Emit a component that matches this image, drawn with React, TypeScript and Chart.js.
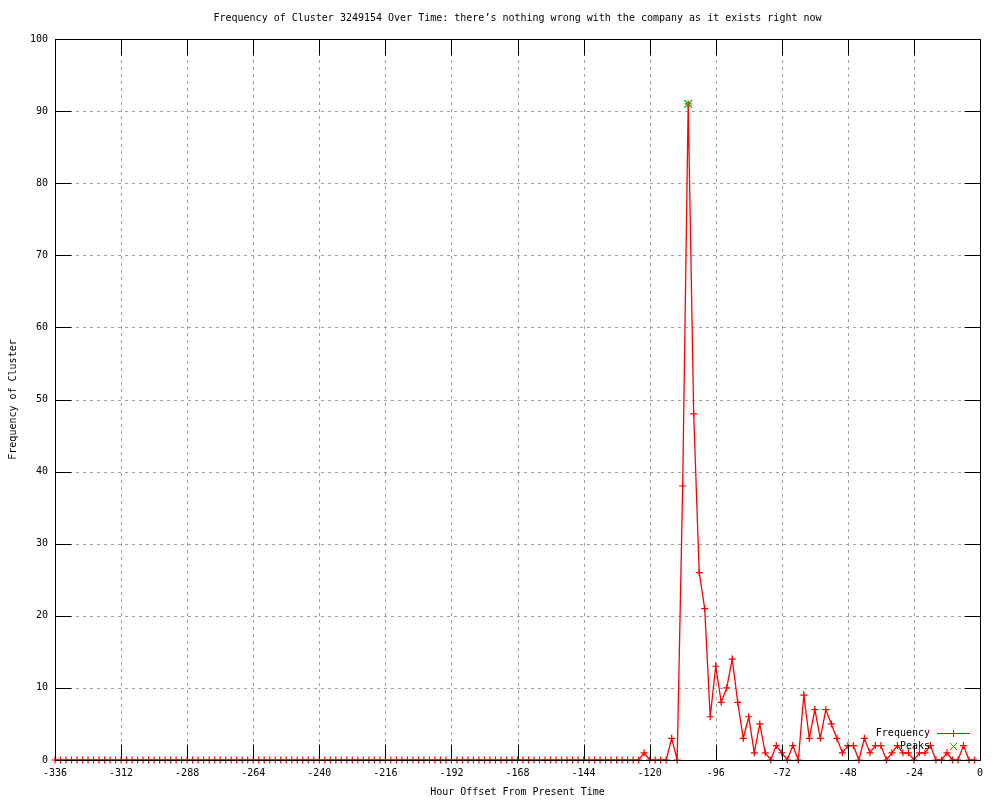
import { useEffect, useRef } from "react";
import { Chart, registerables } from "chart.js";

Chart.register(...registerables);

const TITLE =
  "Frequency of Cluster 3249154 Over Time: there’s nothing wrong with the company as it exists right now";
const X_TITLE = "Hour Offset From Present Time";
const Y_TITLE = "Frequency of Cluster";
const SERIES_LABEL = "Frequency";
const PEAK_LABEL = "Peaks";

// sampling grid of the series (one value every 2 hours, starting at -336)
const FIRST_HOUR = -336;
const HOUR_STEP = 2;

// values, one row per 24 hours (-336 ... -2)
const FREQUENCY = [
  0, 0, 0, 0, 0, 0, 0, 0, 0, 0, 0, 0,
  0, 0, 0, 0, 0, 0, 0, 0, 0, 0, 0, 0,
  0, 0, 0, 0, 0, 0, 0, 0, 0, 0, 0, 0,
  0, 0, 0, 0, 0, 0, 0, 0, 0, 0, 0, 0,
  0, 0, 0, 0, 0, 0, 0, 0, 0, 0, 0, 0,
  0, 0, 0, 0, 0, 0, 0, 0, 0, 0, 0, 0,
  0, 0, 0, 0, 0, 0, 0, 0, 0, 0, 0, 0,
  0, 0, 0, 0, 0, 0, 0, 0, 0, 0, 0, 0,
  0, 0, 0, 0, 0, 0, 0, 0, 0, 0, 0, 1,
  0, 0, 0, 0, 3, 0, 38, 91, 48, 26, 21, 6,
  13, 8, 10, 14, 8, 3, 6, 1, 5, 1, 0, 2,
  1, 0, 2, 0, 9, 3, 7, 3, 7, 5, 3, 1,
  2, 2, 0, 3, 1, 2, 2, 0, 1, 2, 1, 1,
  0, 1, 1, 2, 0, 0, 1, 0, 0, 2, 0, 0,
];

const PEAK_HOURS = [-106];
const PEAK_VALUES = [91];

const X_MIN = -336;
const X_MAX = 0;
const X_STEP = 24;
const Y_MIN = 0;
const Y_MAX = 100;
const Y_STEP = 10;

const FONT_FAMILY = "'DejaVu Sans Mono', 'Liberation Mono', monospace";
const FONT_SIZE = 10;
const RED = "#ff0000";
const GREEN = "#00c000";
const GRID = "#a0a0a0";
const TICK_LEN = 16;

const px = (v: number) => Math.round(v) + 0.5;

const gnuplotPlugin = {
  id: "gnuplotFrame",
  beforeDatasetsDraw(chart: any) {
    const { ctx, chartArea, scales } = chart;
    const { left, right, top, bottom } = chartArea;
    ctx.save();
    ctx.strokeStyle = GRID;
    ctx.lineWidth = 1;
    ctx.setLineDash([3, 4]);
    ctx.beginPath();
    for (const t of scales.x.ticks) {
      const x = px(scales.x.getPixelForValue(t.value));
      ctx.moveTo(x, top);
      ctx.lineTo(x, bottom);
    }
    for (const t of scales.y.ticks) {
      const y = px(scales.y.getPixelForValue(t.value));
      ctx.moveTo(left, y);
      ctx.lineTo(right, y);
    }
    ctx.stroke();
    ctx.restore();
  },
  afterDatasetsDraw(chart: any) {
    const { ctx, chartArea, scales } = chart;
    const L = px(chartArea.left);
    const R = px(chartArea.right);
    const T = px(chartArea.top);
    const B = px(chartArea.bottom);
    ctx.save();
    ctx.setLineDash([]);
    ctx.strokeStyle = "#000";
    ctx.lineWidth = 1;
    ctx.beginPath();
    for (const t of scales.x.ticks) {
      const x = px(scales.x.getPixelForValue(t.value));
      ctx.moveTo(x, B);
      ctx.lineTo(x, B - TICK_LEN);
      ctx.moveTo(x, T);
      ctx.lineTo(x, T + TICK_LEN);
    }
    for (const t of scales.y.ticks) {
      const y = px(scales.y.getPixelForValue(t.value));
      ctx.moveTo(L, y);
      ctx.lineTo(L + TICK_LEN, y);
      ctx.moveTo(R, y);
      ctx.lineTo(R - TICK_LEN, y);
    }
    ctx.stroke();
    ctx.strokeRect(L, T, R - L, B - T);
    ctx.restore();
  },
  afterDraw(chart: any) {
    const { ctx, chartArea } = chart;
    ctx.save();
    ctx.setLineDash([]);
    ctx.font = `${FONT_SIZE}px ${FONT_FAMILY}`;
    ctx.fillStyle = "#000";
    // title, centred over the plot area
    ctx.textAlign = "center";
    ctx.textBaseline = "middle";
    ctx.fillText(TITLE, (chartArea.left + chartArea.right) / 2, 18);

    // key (bottom right, inside the plot)
    const textRight = Math.round(chartArea.right) - 50;
    const sampleL = Math.round(chartArea.right) - 43;
    const sampleR = Math.round(chartArea.right) - 10;
    const sampleC = Math.round(chartArea.right) - 27;
    const row1 = 733;
    const row2 = 746;
    ctx.textAlign = "right";
    ctx.fillText(SERIES_LABEL, textRight, row1);
    ctx.fillText(PEAK_LABEL, textRight, row2);

    // red line sample with a "+" in its middle
    ctx.fillStyle = RED;
    ctx.fillRect(sampleL, row1, sampleR - sampleL, 1);
    ctx.fillRect(sampleC, row1 - 3, 1, 7);

    // green "x"
    ctx.fillStyle = GREEN;
    for (let d = -3; d <= 3; d++) {
      ctx.fillRect(sampleC + d, row2 + d, 1, 1);
      ctx.fillRect(sampleC + d, row2 - d, 1, 1);
    }
    ctx.restore();
  },
};

export default function App() {
  const canvasRef = useRef<HTMLCanvasElement | null>(null);

  useEffect(() => {
    const canvas = canvasRef.current;
    if (!canvas) return;
    const freqPoints = FREQUENCY.map((v, i) => ({ x: FIRST_HOUR + i * HOUR_STEP, y: v }));
    const peakPoints = PEAK_HOURS.map((h, i) => ({ x: h, y: PEAK_VALUES[i] }));
    const font = { family: FONT_FAMILY, size: FONT_SIZE };

    const chart = new Chart(canvas, {
      type: "line",
      data: {
        datasets: [
          {
            label: SERIES_LABEL,
            data: freqPoints,
            borderColor: RED,
            borderWidth: 1.3,
            backgroundColor: RED,
            pointStyle: "cross",
            pointRadius: 3.5,
            pointBorderColor: RED,
            pointBorderWidth: 1.2,
            tension: 0,
            fill: false,
            clip: false,
            order: 0,
          },
          {
            label: PEAK_LABEL,
            data: peakPoints,
            showLine: false,
            borderColor: GREEN,
            backgroundColor: GREEN,
            pointStyle: "crossRot",
            pointRadius: 5.5,
            pointBorderColor: GREEN,
            pointBorderWidth: 1.2,
            clip: false,
            order: -1,
          },
        ],
      } as any,
      options: {
        responsive: false,
        animation: false,
        events: [],
        layout: { padding: { top: 39, right: 20, bottom: 0, left: 0 } },
        plugins: {
          legend: { display: false },
          title: { display: false },
          tooltip: { enabled: false },
        },
        scales: {
          x: {
            type: "linear",
            position: "bottom",
            min: X_MIN,
            max: X_MAX,
            grid: { display: false, drawTicks: false },
            border: { display: false },
            ticks: {
              stepSize: X_STEP,
              font,
              color: "#000",
              padding: 7,
              maxRotation: 0,
              autoSkip: false,
            },
            title: {
              display: true,
              text: X_TITLE,
              font,
              color: "#000",
              padding: { top: 0, bottom: 2 },
            },
            afterFit: (scale: any) => {
              scale.height = 40;
            },
          },
          y: {
            type: "linear",
            position: "left",
            min: Y_MIN,
            max: Y_MAX,
            grid: { display: false, drawTicks: false },
            border: { display: false },
            ticks: {
              stepSize: Y_STEP,
              font,
              color: "#000",
              padding: 7,
            },
            title: {
              display: true,
              text: Y_TITLE,
              font,
              color: "#000",
              padding: { top: 7, bottom: 0 },
            },
            afterFit: (scale: any) => {
              scale.width = 55;
            },
          },
        },
      } as any,
      plugins: [gnuplotPlugin],
    });
    return () => chart.destroy();
  }, []);

  return (
    <div
      style={{
        position: "fixed",
        left: 0,
        top: 0,
        width: 1000,
        height: 800,
        background: "#fff",
      }}
    >
      <canvas ref={canvasRef} width={1000} height={800} style={{ display: "block" }} />
    </div>
  );
}
